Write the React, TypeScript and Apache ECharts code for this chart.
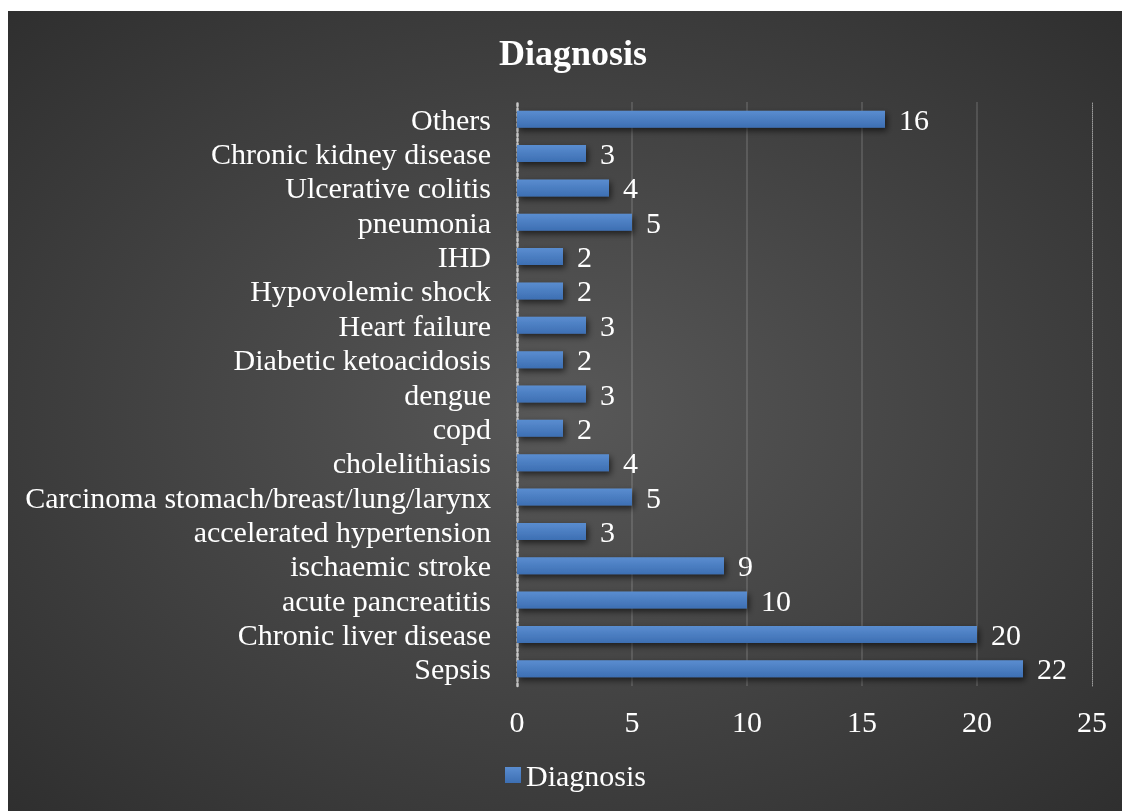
import React, { useEffect, useRef } from "react";
import * as echarts from "echarts";

const categories = [
  "Sepsis",
  "Chronic liver disease",
  "acute pancreatitis",
  "ischaemic stroke",
  "accelerated hypertension",
  "Carcinoma stomach/breast/lung/larynx",
  "cholelithiasis",
  "copd",
  "dengue",
  "Diabetic ketoacidosis",
  "Heart failure",
  "Hypovolemic shock",
  "IHD",
  "pneumonia",
  "Ulcerative colitis",
  "Chronic kidney disease",
  "Others",
];
const values = [22, 20, 10, 9, 3, 5, 4, 2, 3, 2, 3, 2, 2, 5, 4, 3, 16];
const xTicks = [0, 5, 10, 15, 20, 25];
const seriesName = "Diagnosis";
const titleText = "Diagnosis";

const FONT = "'Liberation Serif', 'Times New Roman', serif";

export default function App() {
  const ref = useRef<HTMLDivElement>(null);
  useEffect(() => {
    if (!ref.current) return;
    const chart = echarts.init(ref.current, undefined, { renderer: "svg" });
    const barColor = new echarts.graphic.LinearGradient(0, 0, 0, 1, [
      { offset: 0, color: "#5a8dd0" },
      { offset: 1, color: "#3d6fb3" },
    ]);
    chart.setOption({
      animation: false,
      backgroundColor: {
        type: "radial",
        x: 0.5,
        y: 0.5,
        r: 0.86,
        colorStops: [
          { offset: 0, color: "#585858" },
          { offset: 1, color: "#262626" },
        ],
      },
      title: {
        text: titleText,
        left: 486,
        top: 19,
        textStyle: {
          fontFamily: FONT,
          fontSize: 36,
          fontWeight: "bold",
          color: "#ffffff",
        },
      },
      legend: {
        data: [seriesName],
        left: 497,
        top: 749,
        padding: 0,
        icon: "rect",
        itemWidth: 16,
        itemHeight: 16,
        textStyle: { fontFamily: FONT, fontSize: 30, color: "#ffffff" },
      },
      grid: { left: 509, right: 30, top: 91, bottom: 125, containLabel: false },
      xAxis: {
        type: "value",
        min: xTicks[0],
        max: xTicks[xTicks.length - 1],
        interval: 5,
        axisLine: { show: false },
        axisTick: { show: false },
        axisLabel: {
          margin: 20,
          fontFamily: FONT,
          fontSize: 30,
          color: "#ffffff",
        },
        splitLine: {
          show: true,
          showMinLine: false,
          showMaxLine: false,
          lineStyle: { color: "rgba(255,255,255,0.13)", width: 2 },
        },
      },
      yAxis: [
        {
          type: "category",
          data: categories,
          axisTick: { show: false },
          axisLine: {
            show: true,
            lineStyle: { color: "#c8c8c8", type: "dotted", width: 2.5 },
          },
          axisLabel: {
            interval: 0,
            margin: 26,
            fontFamily: FONT,
            fontSize: 30,
            color: "#ffffff",
          },
          splitLine: { show: false },
        },
        {
          type: "category",
          data: categories,
          position: "right",
          axisTick: { show: false },
          axisLabel: { show: false },
          axisLine: {
            show: true,
            lineStyle: { color: "#9a9a9a", type: "dotted", width: 1 },
          },
        },
      ],
      series: [
        {
          name: seriesName,
          type: "bar",
          data: values,
          barWidth: 17,
          itemStyle: {
            color: barColor,
            shadowColor: "rgba(0,0,0,0.6)",
            shadowBlur: 6,
            shadowOffsetX: 2,
            shadowOffsetY: 3,
          },
          label: {
            show: true,
            position: "right",
            distance: 14,
            fontFamily: FONT,
            fontSize: 30,
            color: "#ffffff",
          },
        },
      ],
    });
    return () => chart.dispose();
  }, []);
  return (
    <div
      ref={ref}
      style={{ position: "fixed", left: 8, top: 11, width: 1114, height: 800 }}
    />
  );
}
